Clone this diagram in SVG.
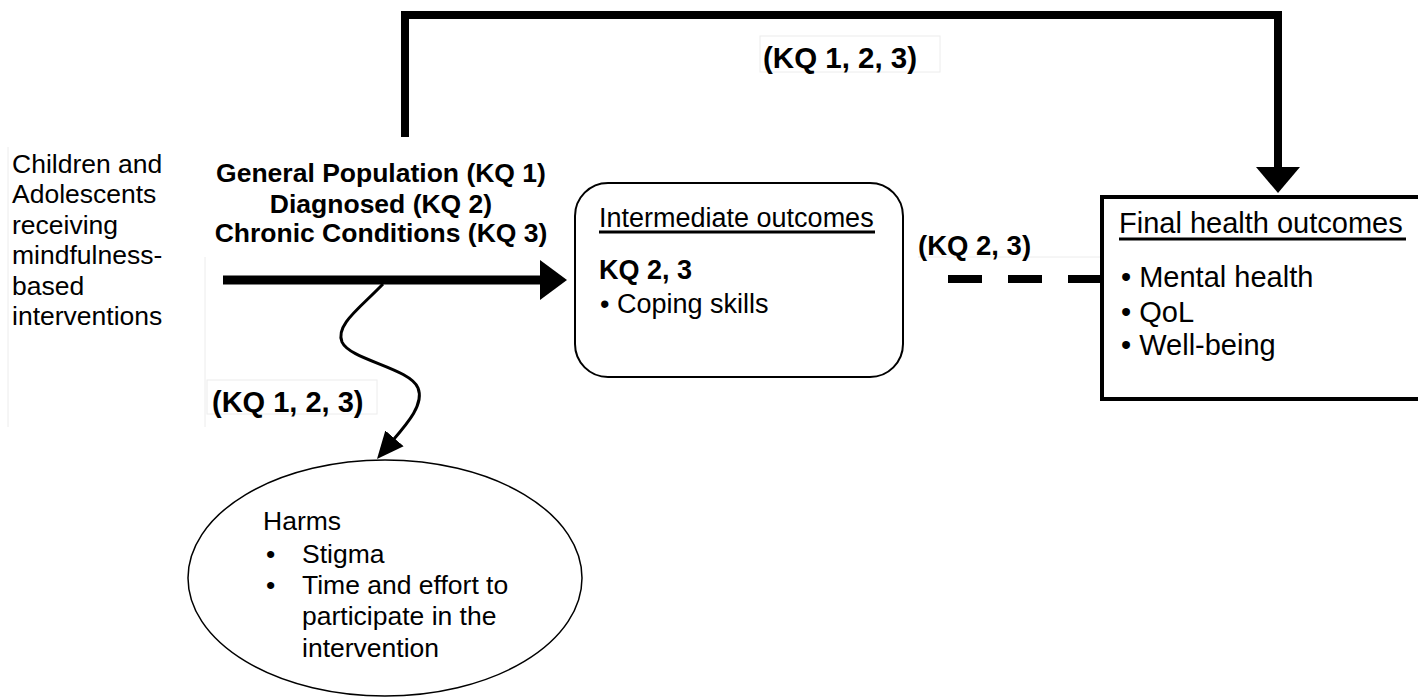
<svg xmlns="http://www.w3.org/2000/svg" width="1418" height="700" viewBox="0 0 1418 700">
<style>
text{font-family:"Liberation Sans",Arial,sans-serif;fill:#000}
.b{font-weight:bold}
.faint{fill:none;stroke:#ececec;stroke-width:1}
.thick{fill:none;stroke:#000;stroke-width:8}
.ul{stroke:#000;stroke-width:3}
</style>
<defs>
<marker id="ah" markerUnits="userSpaceOnUse" markerWidth="28" markerHeight="28" viewBox="0 0 28 28" refX="10" refY="14" orient="auto">
<path d="M0,2 L27,14 L0,26 z" fill="#000"/>
</marker>
</defs>
<rect width="1418" height="700" fill="#fff"/>
<g id="faint-boxes">
<path class="faint" d="M8,147 V427"/>
<path class="faint" d="M205,257 V427"/>
<rect class="faint" x="207" y="380" width="170" height="34"/>
<rect class="faint" x="760" y="36" width="180" height="36"/>
<path class="faint" d="M918,257 H1100"/>
</g>
<g id="connectors">
<path class="thick" d="M405,137 V15 H1278 V170"/>
<polygon points="1256,167 1300,167 1278,193" fill="#000"/>
<path d="M223,280 H545" fill="none" stroke="#000" stroke-width="9"/>
<polygon points="540,260 567,280 540,300" fill="#000"/>
<path d="M383,284 C360,308 335,325 342,342 C350,360 410,368 418,388 C425,405 405,426 388,446" fill="none" stroke="#000" stroke-width="3" marker-end="url(#ah)"/>
<path d="M948,279 H1102" fill="none" stroke="#000" stroke-width="8" stroke-dasharray="34 26"/>
</g>
<g id="labels">
<text class="b" x="763" y="68" font-size="29.5">(KQ 1, 2, 3)</text>
<text class="b" x="212" y="412" font-size="29">(KQ 1, 2, 3)</text>
<text class="b" x="918" y="255" font-size="27.5">(KQ 2, 3)</text>
</g>
<g id="population">
<text font-size="26.5" x="12" y="173">Children and</text>
<text font-size="26.5" x="12" y="203">Adolescents</text>
<text font-size="26.5" x="12" y="234">receiving</text>
<text font-size="26.5" x="12" y="264">mindfulness-</text>
<text font-size="26.5" x="12" y="295">based</text>
<text font-size="26.5" x="12" y="325">interventions</text>
</g>
<g id="subgroups">
<text class="b" font-size="26.5" x="381" y="182" text-anchor="middle">General Population (KQ 1)</text>
<text class="b" font-size="26.5" x="381" y="213" text-anchor="middle">Diagnosed (KQ 2)</text>
<text class="b" font-size="26.5" x="381" y="242" text-anchor="middle">Chronic Conditions (KQ 3)</text>
</g>
<g id="intermediate">
<rect x="575" y="183" width="328" height="194" rx="33" ry="33" fill="#fff" stroke="#000" stroke-width="2"/>
<text font-size="27" x="599" y="227">Intermediate outcomes</text>
<line class="ul" x1="599" y1="232" x2="875" y2="232"/>
<text class="b" font-size="27" x="599" y="279">KQ 2, 3</text>
<text font-size="27" x="600" y="313">• Coping skills</text>
</g>
<g id="final">
<rect x="1102" y="197" width="330" height="202" fill="#fff" stroke="#000" stroke-width="4"/>
<text font-size="29" x="1119" y="233">Final health outcomes</text>
<line class="ul" x1="1119" y1="239" x2="1406" y2="239"/>
<text font-size="29" x="1121" y="287">• Mental health</text>
<text font-size="29" x="1121" y="322">• QoL</text>
<text font-size="29" x="1121" y="355">• Well-being</text>
</g>
<g id="harms">
<ellipse cx="385" cy="578" rx="197" ry="118" fill="#fff" stroke="#000" stroke-width="1.5"/>
<text font-size="26.5" x="263" y="530">Harms</text>
<text font-size="26.5" x="266" y="563">•</text>
<text font-size="26.5" x="302" y="563">Stigma</text>
<text font-size="26.5" x="266" y="594">•</text>
<text font-size="26.5" x="302" y="594">Time and effort to</text>
<text font-size="26.5" x="302" y="625">participate in the</text>
<text font-size="26.5" x="302" y="657">intervention</text>
</g>
</svg>
